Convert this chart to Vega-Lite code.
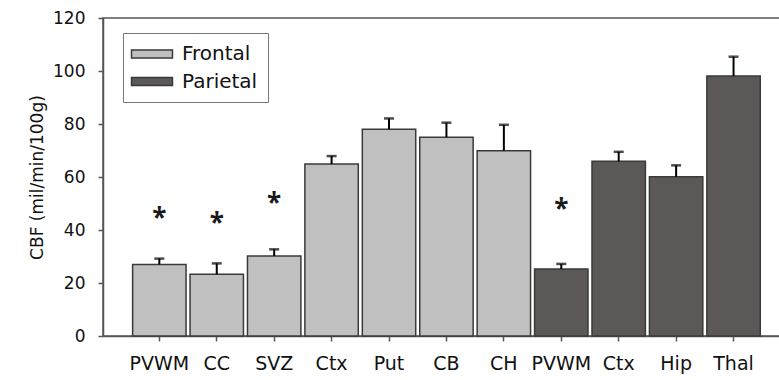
{
  "$schema": "https://vega.github.io/schema/vega-lite/v6.json",
  "width": 677,
  "height": 318,
  "autosize": "none",
  "padding": {"left": 103, "top": 18, "right": 0, "bottom": 44},
  "background": "white",
  "config": {
    "font": "DejaVu Sans",
    "view": {"stroke": "#555555", "strokeWidth": 1.5},
    "axis": {"labelFont": "DejaVu Sans", "titleFont": "DejaVu Sans", "labelColor": "#111111", "titleColor": "#111111", "domainColor": "#555555", "tickColor": "#555555", "domainWidth": 1.5, "tickWidth": 1.5, "grid": false},
    "legend": {"strokeColor": "#777777", "fillColor": "white"}
  },
  "data": {
    "values": [
      {"key": "PVWM|F", "lobe": "Frontal", "cbf": 27.0, "err": 29.2, "sig": "*", "sigY": 46.4},
      {"key": "CC|F", "lobe": "Frontal", "cbf": 23.3, "err": 27.4, "sig": "*", "sigY": 44.5},
      {"key": "SVZ|F", "lobe": "Frontal", "cbf": 30.2, "err": 32.7, "sig": "*", "sigY": 52.2},
      {"key": "Ctx|F", "lobe": "Frontal", "cbf": 64.9, "err": 67.9},
      {"key": "Put|F", "lobe": "Frontal", "cbf": 78.0, "err": 82.1},
      {"key": "CB|F", "lobe": "Frontal", "cbf": 75.0, "err": 80.5},
      {"key": "CH|F", "lobe": "Frontal", "cbf": 69.9, "err": 79.7},
      {"key": "PVWM|P", "lobe": "Parietal", "cbf": 25.3, "err": 27.2, "sig": "*", "sigY": 50.0},
      {"key": "Ctx|P", "lobe": "Parietal", "cbf": 65.9, "err": 69.5},
      {"key": "Hip|P", "lobe": "Parietal", "cbf": 60.1, "err": 64.4},
      {"key": "Thal|P", "lobe": "Parietal", "cbf": 98.1, "err": 105.4}
    ]
  },
  "encoding": {
    "x": {
      "field": "key", "type": "nominal", "sort": null,
      "scale": {"paddingInner": 0.07, "paddingOuter": 0.43, "align": 0.6},
      "axis": {"title": null, "labelAngle": 0, "labelExpr": "split(datum.label, '|')[0]", "labelFontSize": 19, "tickSize": 5, "labelPadding": 13, "domain": true}
    }
  },
  "layer": [
    {
      "mark": {"type": "bar", "stroke": "#3a3a3a", "strokeWidth": 1.5},
      "encoding": {
        "y": {
          "field": "cbf", "type": "quantitative",
          "scale": {"domain": [0, 120], "nice": false},
          "axis": {"title": "CBF (mil/min/100g)", "titleFontSize": 17, "titleFontWeight": "normal", "labelFontSize": 17, "tickSize": 5, "labelPadding": 13, "titlePadding": 6, "values": [0, 20, 40, 60, 80, 100, 120]}
        },
        "color": {
          "field": "lobe", "type": "nominal",
          "scale": {"domain": ["Frontal", "Parietal"], "range": ["#c0c0c0", "#5b5857"]},
          "legend": {
            "title": null, "orient": "none", "legendX": 20, "legendY": 15,
            "padding": 10,
            "symbolType": "M-2,-0.38H2V0.38H-2Z", "symbolSize": 420, "symbolOffset": 8, "symbolStrokeColor": "#3a3a3a", "symbolStrokeWidth": 1.5,
            "labelFontSize": 20, "labelFont": "DejaVu Sans", "labelColor": "#111111", "labelOffset": 19, "rowPadding": 6.5,
            "labelExpr": "datum.label + '\u00a0\u00a0'"
          }
        }
      }
    },
    {
      "mark": {"type": "rule", "color": "black", "strokeWidth": 2},
      "encoding": {"y": {"field": "cbf", "type": "quantitative"}, "y2": {"field": "err"}}
    },
    {
      "mark": {"type": "tick", "color": "black", "size": 10, "thickness": 2.5},
      "encoding": {"y": {"field": "err", "type": "quantitative"}}
    },
    {
      "transform": [{"filter": "datum.sig"}],
      "mark": {"type": "text", "font": "Open Sans", "fontSize": 26, "fontWeight": "bold", "color": "#1a1a1a", "baseline": "middle", "dy": 6},
      "encoding": {"y": {"field": "sigY", "type": "quantitative"}, "text": {"field": "sig"}}
    }
  ]
}
